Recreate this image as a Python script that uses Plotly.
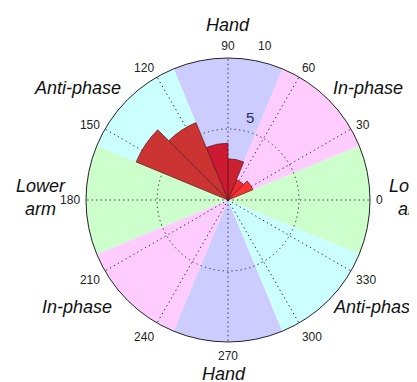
import plotly.graph_objects as go

# ---- data ----
sector_theta = [0, 45, 90, 135, 180, 225, 270, 315]
sector_colors = ["#ccffcc", "#ffccff", "#ccccff", "#ccffff",
                 "#ccffcc", "#ffccff", "#ccccff", "#ccffff"]
sector_r = [10] * 8

bin_theta = [33.75, 56.25, 78.75, 101.25, 123.75, 146.25]
bin_counts = [1.9, 1.55, 2.9, 4.0, 5.9, 7.0]
bin_colors = ["#ff3030", "#ee2a2e", "#cc2030", "#cc1a33", "#cc3333", "#cc3333"]

angle_ticks = [0, 30, 60, 90, 120, 150, 180, 210, 240, 270, 300, 330]

labels = [
    ("<i>Hand</i>", 228, 25, 18),
    ("<i>Anti-phase</i>", 77, 88, 18),
    ("<i>In-phase</i>", 368, 88, 18),
    ("<i>Lower<br>arm</i>", 41, 197, 18),
    ("<i>Lower<br>arm</i>", 414, 197, 18),
    ("<i>In-phase</i>", 77, 307, 18),
    ("<i>Anti-phase</i>", 376, 307, 18),
    ("<i>Hand</i>", 224, 374, 18),
]

OFF = 8  # default page body margin
W, H = 417 - OFF, 382 - OFF
cx, cy, R = 228 - OFF, 200 - OFF, 142


def px(x):
    return (x - OFF) / W


def py(y):
    return 1 - (y - OFF) / H


fig = go.Figure()

fig.add_trace(go.Barpolar(
    r=sector_r, theta=sector_theta, width=[45] * 8,
    marker=dict(color=sector_colors, line=dict(width=0)),
    subplot="polar", hoverinfo="skip", showlegend=False))

# placeholder so that the grid-only subplot is drawn
fig.add_trace(go.Scatterpolar(
    r=[0], theta=[0], mode="markers", marker=dict(size=1, opacity=0),
    subplot="polar2", hoverinfo="skip", showlegend=False))

fig.add_trace(go.Barpolar(
    r=bin_counts, theta=bin_theta, width=[22.5] * 6,
    marker=dict(color=bin_colors, line=dict(color="#5a1a1a", width=0.7)),
    subplot="polar3", showlegend=False))

dom_x = [(cx - R) / W, (cx + R) / W]
dom_y = [(H - cy - R) / H, (H - cy + R) / H]

hidden_radial = dict(range=[0, 10], showticklabels=False, ticks="",
                     showline=False, showgrid=False)
hidden_angular = dict(direction="counterclockwise", rotation=0,
                      showticklabels=False, ticks="", showline=False,
                      showgrid=False)

grid_style = dict(gridcolor="#2a2a3a", griddash="1.3px,3.2px", gridwidth=1.3)

fig.update_layout(
    width=W, height=H,
    margin=dict(l=0, r=0, t=0, b=0),
    paper_bgcolor="white",
    font=dict(family="Liberation Sans, Arial, sans-serif", color="#111"),
    polar=dict(
        domain=dict(x=dom_x, y=dom_y),
        bgcolor="white",
        bargap=0,
        radialaxis=hidden_radial,
        angularaxis=dict(direction="counterclockwise", rotation=0,
                         tickvals=angle_ticks, ticks="outside", ticklen=3,
                         tickcolor="rgba(0,0,0,0)",
                         tickfont=dict(size=12, color="#222"),
                         showline=True, linecolor="#222", linewidth=1,
                         showgrid=False),
    ),
    polar2=dict(
        domain=dict(x=dom_x, y=dom_y),
        bgcolor="rgba(0,0,0,0)",
        radialaxis=dict(range=[0, 10], tickvals=[5], showticklabels=False,
                        ticks="", showline=False, showgrid=True, **grid_style),
        angularaxis=dict(direction="counterclockwise", rotation=0,
                         tickvals=angle_ticks, showticklabels=False, ticks="",
                         showline=False, showgrid=True, **grid_style),
    ),
    polar3=dict(
        domain=dict(x=dom_x, y=dom_y),
        bgcolor="rgba(0,0,0,0)",
        bargap=0,
        radialaxis=hidden_radial,
        angularaxis=hidden_angular,
    ),
)

for text, x, y, sz in labels:
    fig.add_annotation(text=text, x=px(x), y=py(y), xref="paper", yref="paper",
                       showarrow=False, font=dict(size=sz, color="#111"),
                       xanchor="center", yanchor="middle", align="center")

fig.add_annotation(text="5", x=px(250), y=py(117), xref="paper", yref="paper",
                   showarrow=False, font=dict(size=15, color="#2a2a66"),
                   xanchor="center", yanchor="middle")
fig.add_annotation(text="10", x=px(265), y=py(46), xref="paper", yref="paper",
                   showarrow=False, font=dict(size=12, color="#222"),
                   xanchor="center", yanchor="middle")

fig.write_html("out.html")
